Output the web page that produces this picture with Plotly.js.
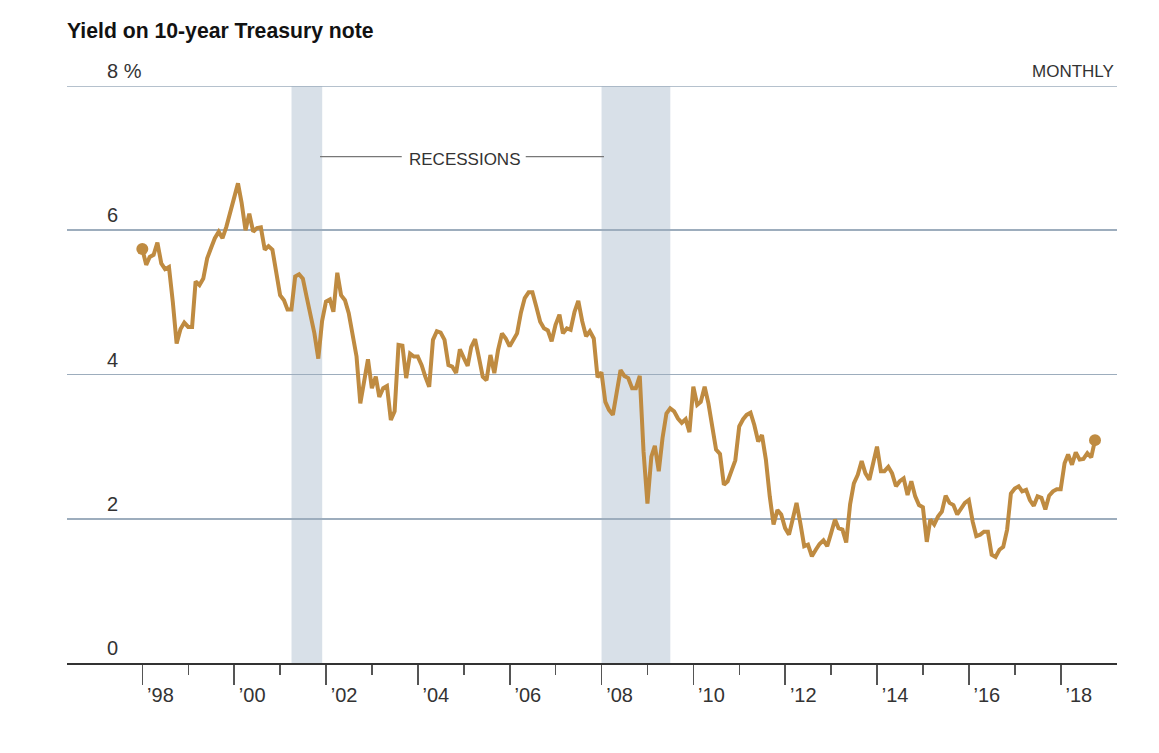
<!DOCTYPE html>
<html>
<head>
<meta charset="utf-8">
<script src="https://cdn.plot.ly/plotly-3.0.1.min.js"></script>
<style>
  html, body { margin: 0; padding: 0; background: #fff; }
  #chart { width: 1159px; height: 753px; }
</style>
</head>
<body>
<div id="chart"></div>
<script>
// Month-end yield on the 10-year Treasury note (percent), Dec 1997 through Sep 2018
const firstMonth = { year: 1997, month: 12 };
const yields = [
  5.74,
  5.52, 5.63, 5.66, 5.83, 5.54, 5.46, 5.49, 5.00, 4.43, 4.63, 4.72, 4.66,   // 1998
  4.66, 5.29, 5.24, 5.33, 5.61, 5.75, 5.89, 5.98, 5.89, 6.05, 6.24, 6.44,   // 1999
  6.65, 6.38, 6.00, 6.23, 5.98, 6.03, 6.04, 5.73, 5.78, 5.73, 5.45, 5.10,   // 2000
  5.03, 4.90, 4.90, 5.36, 5.39, 5.33, 5.07, 4.84, 4.57, 4.22, 4.74, 5.01,   // 2001
  5.04, 4.87, 5.41, 5.10, 5.03, 4.85, 4.53, 4.25, 3.60, 3.93, 4.21, 3.81,   // 2002
  3.97, 3.69, 3.81, 3.84, 3.37, 3.49, 4.41, 4.40, 3.95, 4.29, 4.25, 4.25,   // 2003
  4.13, 3.97, 3.83, 4.48, 4.60, 4.58, 4.48, 4.13, 4.11, 4.02, 4.35, 4.23,   // 2004
  4.12, 4.38, 4.49, 4.24, 3.97, 3.92, 4.27, 4.02, 4.34, 4.57, 4.50, 4.39,   // 2005
  4.50, 4.57, 4.86, 5.06, 5.14, 5.14, 4.94, 4.73, 4.64, 4.61, 4.46, 4.69,   // 2006
  4.83, 4.57, 4.64, 4.62, 4.87, 5.02, 4.74, 4.53, 4.60, 4.50, 3.96, 4.03,   // 2007
  3.62, 3.51, 3.44, 3.74, 4.06, 3.98, 3.95, 3.81, 3.81, 3.98, 2.93, 2.21,   // 2008
  2.86, 3.01, 2.66, 3.12, 3.46, 3.53, 3.49, 3.39, 3.33, 3.38, 3.20, 3.83,   // 2009
  3.58, 3.62, 3.83, 3.60, 3.28, 2.96, 2.90, 2.47, 2.52, 2.68, 2.81, 3.28,   // 2010
  3.38, 3.44, 3.47, 3.30, 3.07, 3.16, 2.82, 2.31, 1.92, 2.12, 2.06, 1.87,   // 2011
  1.78, 1.99, 2.22, 1.94, 1.62, 1.64, 1.48, 1.57, 1.65, 1.70, 1.62, 1.80,   // 2012
  1.99, 1.87, 1.85, 1.67, 2.20, 2.49, 2.61, 2.80, 2.63, 2.54, 2.77, 3.00,   // 2013
  2.66, 2.66, 2.72, 2.63, 2.45, 2.52, 2.56, 2.33, 2.52, 2.31, 2.19, 2.16,   // 2014
  1.68, 1.99, 1.92, 2.03, 2.10, 2.32, 2.22, 2.19, 2.06, 2.15, 2.22, 2.26,   // 2015
  1.96, 1.76, 1.78, 1.82, 1.82, 1.50, 1.47, 1.57, 1.61, 1.85, 2.35, 2.42,   // 2016
  2.45, 2.38, 2.40, 2.26, 2.18, 2.31, 2.29, 2.13, 2.32, 2.38, 2.41, 2.41,   // 2017
  2.77, 2.89, 2.75, 2.92, 2.82, 2.83, 2.91, 2.85, 3.09                      // 2018
];

// NBER recessions, shaded from the month after the peak to the month after the trough
const recessionStarts = ['2001-04-01', '2008-01-01'];
const recessionEnds   = ['2001-12-01', '2009-07-01'];

const yearTicks = ['1998-01-01', '2000-01-01', '2002-01-01', '2004-01-01', '2006-01-01',
                   '2008-01-01', '2010-01-01', '2012-01-01', '2014-01-01', '2016-01-01', '2018-01-01'];
const yearTickLabels = ['’98', '’00', '’02', '’04', '’06', '’08', '’10', '’12', '’14', '’16', '’18'];
const oddYearTicks = ['1999-01-01', '2001-01-01', '2003-01-01', '2005-01-01', '2007-01-01',
                      '2009-01-01', '2011-01-01', '2013-01-01', '2015-01-01', '2017-01-01'];
const yTicks = [0, 2, 4, 6, 8];
const yTickLabels = ['0', '2', '4', '6', '8 %'];

// last calendar day of the i-th month after the first one
function monthEnd(i) {
  const d = new Date(Date.UTC(firstMonth.year, firstMonth.month - 1 + i + 1, 0));
  return d.toISOString().slice(0, 10);
}
const dates = yields.map((_, i) => monthEnd(i));

const FONT = '"Liberation Sans", Arial, Helvetica, sans-serif';
const GOLD = '#bf8b41';
const TEXT = '#333333';
const GRID = '#9dadbd';

const lineTrace = {
  type: 'scatter',
  mode: 'lines',
  x: dates,
  y: yields,
  line: { color: GOLD, width: 4, shape: 'linear' },
  cliponaxis: false,
  hoverinfo: 'skip'
};

const last = yields.length - 1;
const endDots = {
  type: 'scatter',
  mode: 'markers',
  x: [dates[0], dates[last]],
  y: [yields[0], yields[last]],
  marker: { color: GOLD, size: 12 },
  cliponaxis: false,
  hoverinfo: 'skip'
};

const shapes = recessionStarts.map((s, i) => ({
  type: 'rect', xref: 'x', yref: 'paper',
  x0: s, x1: recessionEnds[i], y0: 0, y1: 1,
  fillcolor: '#d8e0e8', line: { width: 0 }, layer: 'below'
}));
// the top gridline sits on the plot edge, so it is drawn as its own rule
shapes.push({
  type: 'line', xref: 'paper', yref: 'y', x0: 0, x1: 1,
  y0: yTicks[yTicks.length - 1], y1: yTicks[yTicks.length - 1],
  line: { color: GRID, width: 1.6 }, layer: 'between'
});
// leader lines on either side of the RECESSIONS label
shapes.push(
  { type: 'line', xref: 'paper', yref: 'paper', x0: 0.2410, x1: 0.3188, y0: 0.8775, y1: 0.8775,
    line: { color: '#777777', width: 1.3 } },
  { type: 'line', xref: 'paper', yref: 'paper', x0: 0.4369, x1: 0.5114, y0: 0.8775, y1: 0.8775,
    line: { color: '#777777', width: 1.3 } }
);

const annotations = yTicks.map((v, i) => ({
  xref: 'paper', yref: 'y', x: 0.0362, y: v,
  xanchor: 'left', yanchor: 'middle', yshift: 15,
  text: yTickLabels[i], showarrow: false,
  font: { family: FONT, size: 20, color: TEXT }
}));
annotations.push(
  { xref: 'paper', yref: 'paper', x: 0.9995, y: 1.0248, xanchor: 'right', yanchor: 'middle',
    text: 'MONTHLY', showarrow: false, font: { family: FONT, size: 17, color: TEXT } },
  { xref: 'paper', yref: 'paper', x: 0.379, y: 0.873, xanchor: 'center', yanchor: 'middle',
    text: 'RECESSIONS', showarrow: false, font: { family: FONT, size: 17, color: TEXT } }
);

const layout = {
  width: 1159,
  height: 753,
  margin: { l: 67, r: 42, t: 86, b: 90 },
  paper_bgcolor: '#ffffff',
  plot_bgcolor: '#ffffff',
  showlegend: false,
  title: {
    text: 'Yield on 10-year Treasury note',
    xref: 'container', yref: 'container',
    x: 67 / 1159, xanchor: 'left',
    y: 1 - 31 / 753, yanchor: 'middle',
    font: { family: FONT, size: 21.2, color: '#121212', weight: 700 }
  },
  xaxis: {
    type: 'date',
    range: ['1996-05-11', '2019-03-24'],
    showgrid: false,
    zeroline: false,
    showline: true,
    linecolor: '#333333',
    linewidth: 2,
    tickmode: 'array',
    tickvals: yearTicks,
    ticktext: yearTickLabels,
    ticks: 'outside',
    ticklen: 20,
    tickwidth: 1.5,
    tickcolor: '#555555',
    ticklabelshift: 18,
    ticklabelstandoff: -7,
    tickfont: { family: FONT, size: 20, color: TEXT },
    minor: {
      tickmode: 'array',
      tickvals: oddYearTicks,
      ticks: 'outside',
      ticklen: 10,
      tickwidth: 1.5,
      tickcolor: '#555555',
      showgrid: false
    },
    fixedrange: true
  },
  yaxis: {
    range: [0, 8],
    tickmode: 'array',
    tickvals: yTicks,
    showticklabels: false,
    ticks: '',
    showgrid: true,
    gridcolor: GRID,
    gridwidth: 1.6,
    zeroline: false,
    showline: false,
    fixedrange: true
  },
  shapes: shapes,
  annotations: annotations
};

Plotly.newPlot('chart', [lineTrace, endDots], layout, { displayModeBar: false, staticPlot: true });
</script>
</body>
</html>
